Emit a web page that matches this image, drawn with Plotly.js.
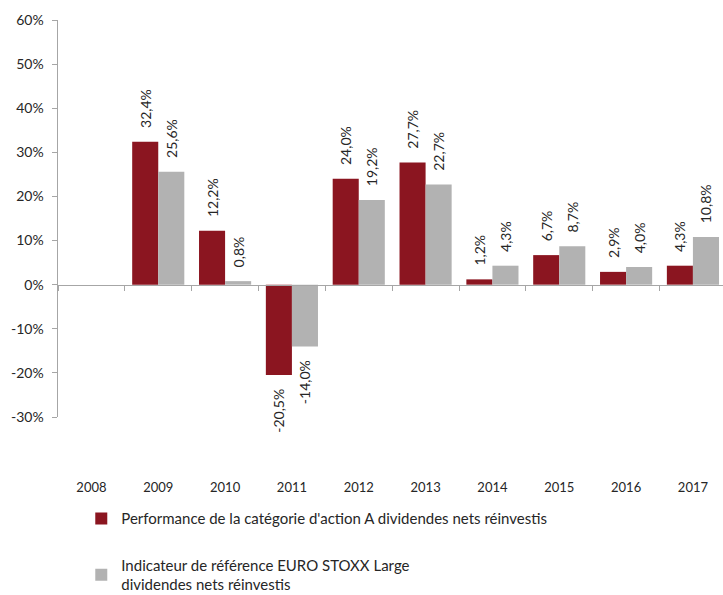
<!DOCTYPE html>
<html>
<head>
<meta charset="utf-8">
<script src="https://cdn.plot.ly/plotly-3.0.1.min.js"></script>
<style>html,body{margin:0;padding:0;background:#fff;}#chart{width:723px;height:595px;}</style>
</head>
<body>
<div id="chart"></div>
<script>
const years = ['2008','2009','2010','2011','2012','2013','2014','2015','2016','2017'];
const fundValues = [null, 32.4, 12.2, -20.5, 24.0, 27.7, 1.2, 6.7, 2.9, 4.3];
const benchValues = [null, 25.6, 0.8, -14.0, 19.2, 22.7, 4.3, 8.7, 4.0, 10.8];
const yTickValues = [-30, -20, -10, 0, 10, 20, 30, 40, 50, 60];
const yTickLabels = ['-30%', '-20%', '-10%', '0%', '10%', '20%', '30%', '40%', '50%', '60%'];
const fundName = "Performance de la catégorie d'action A dividendes nets réinvestis";
const benchName = "Indicateur de référence EURO STOXX Large<br>dividendes nets réinvestis";

function fmt(arr) {
  return arr.map(v => {
    if (v === null) return '';
    const s = v.toFixed(1).replace('.', ',') + '%';
    return v >= 0 ? '\u00A0\u00A0\u00A0' + s : s + '\u00A0\u00A0\u00A0';
  });
}

const fam = 'Lato, "Open Sans", sans-serif';
const txt = '#262626';

const traces = [
  {type: 'bar', x: years, y: fundValues, name: fundName, marker: {color: '#8B1520'},
   text: fmt(fundValues), textposition: 'outside', textangle: -90, cliponaxis: false,
   constraintext: 'none',
   textfont: {family: fam, size: 14, color: txt}, legendgroup: 'a', hoverinfo: 'none'},
  {type: 'bar', x: years, y: benchValues, name: benchName, marker: {color: '#B2B2B2'},
   text: fmt(benchValues), textposition: 'outside', textangle: -90, cliponaxis: false,
   constraintext: 'none',
   textfont: {family: fam, size: 14, color: txt}, legendgroup: 'b', hoverinfo: 'none'}
];

const layout = {
  width: 723, height: 595,
  margin: {l: 58, r: 0, t: 20, b: 178, autoexpand: false},
  paper_bgcolor: '#fff', plot_bgcolor: '#fff',
  font: {family: fam, size: 13, color: txt},
  barmode: 'group', bargap: 0.22, bargroupgap: 0,
  showlegend: true,
  legend: {x: 0.035, y: -0.215, xanchor: 'left', yanchor: 'top', orientation: 'v',
           font: {family: fam, size: 15, color: txt}, tracegroupgap: 24,
           traceorder: 'grouped', itemwidth: 30},
  xaxis: {type: 'category', range: [-0.5, 9.45], anchor: 'free', position: 1/3,
          showline: true, linecolor: '#A6A6A6', linewidth: 1.5,
          tickson: 'boundaries', ticks: 'outside', ticklen: 5, tickcolor: '#A6A6A6',
          showgrid: false, zeroline: false, automargin: false,
          ticklabelstandoff: 190, tickfont: {family: fam, size: 13, color: txt}},
  yaxis: {range: [-30, 60], tickmode: 'array', tickvals: yTickValues, ticktext: yTickLabels,
          showline: true, linecolor: '#A6A6A6', linewidth: 1.5,
          ticks: 'outside', ticklen: 5, tickcolor: '#A6A6A6',
          showgrid: false, zeroline: false, automargin: false,
          ticklabelstandoff: 5,
          tickfont: {family: fam, size: 14, color: txt}}
};

Plotly.newPlot('chart', traces, layout, {displayModeBar: false, staticPlot: true});
</script>
</body>
</html>
